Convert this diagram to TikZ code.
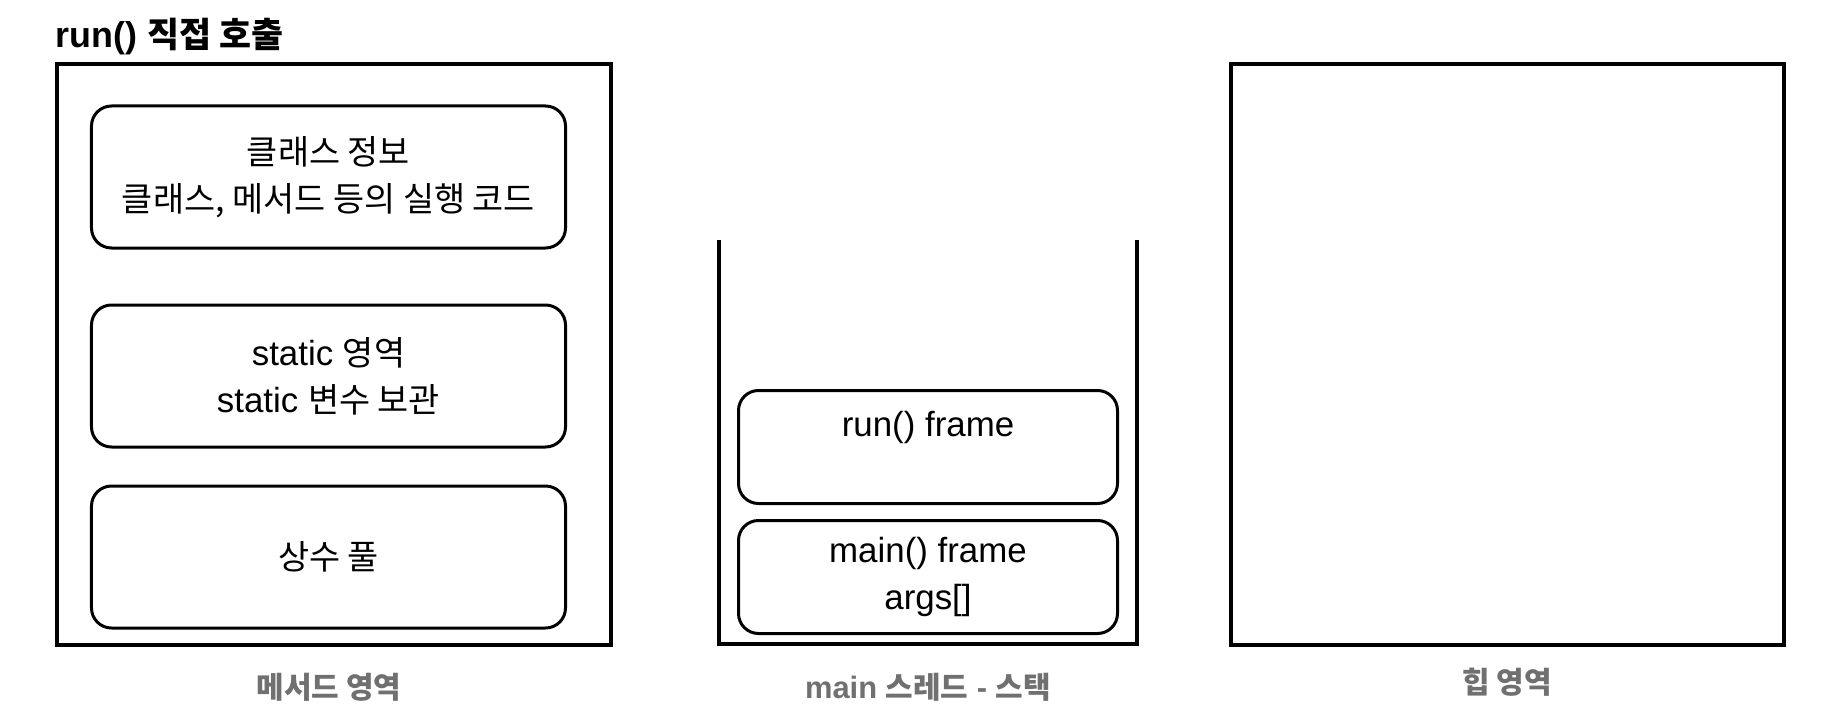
\documentclass[tikz,border=0pt]{standalone}
\usepackage{fontspec}
\setmainfont{Liberation Sans}
\newfontfamily\ko{Noto Sans CJK KR}[Scale=0.97]
\usetikzlibrary{positioning}
\definecolor{labelgray}{RGB}{112,112,112}
\tikzstyle{every picture}=[x=1bp, y=-1bp, node distance=20bp]
\tikzstyle{region}=[draw, line width=4bp, minimum width=553bp, minimum height=580bp, inner sep=0pt]
\tikzstyle{part}=[draw, line width=3bp, rounded corners=20bp, minimum width=474bp,%
	minimum height=142bp, align=center, font=\fontsize{35}{47}\selectfont]
\tikzstyle{stackframe}=[part, minimum width=379bp, minimum height=113bp]
\tikzstyle{areaname}=[text=labelgray, font=\bfseries\fontsize{31}{36}\selectfont]

\begin{document}
\begin{tikzpicture}
	\path[fill=white] (0,0) rectangle (1842,724);
	\node (T) [anchor=west, font=\bfseries\fontsize{36}{40}\selectfont] at (52,37) {run() {\ko 직접 호출}};
	\node (M) [region] at (334,354.5) {};
	\node (P1) [part] at (328.5,177) {{\ko 클래스 정보}\\{\ko 클래스, 메서드 등의 실행 코드}};
	\node (P2) [part, below=54bp of P1] {static {\ko 영역}\\static {\ko 변수 보관}};
	\node (P3) [part, below=36bp of P2] {\ko 상수 풀};
	\node (MN) [areaname] at (329,687) {\ko 메서드 영역};
	\draw[line width=4bp] (719,240) -- (719,644) -- (1137,644) -- (1137,240);
	\node (RF) [stackframe] at (928,447) {run() frame\\\mbox{}};
	\node (MF) [stackframe, below=14bp of RF] {main() frame\\args[]};
	\node (SN) [areaname] at (928,687) {main {\ko 스레드} - {\ko 스택}};
	\node (H) [region] at (1507.5,354.5) {};
	\node (HN) [areaname] at (1507,682) {\ko 힙 영역};
\end{tikzpicture}
\end{document}
